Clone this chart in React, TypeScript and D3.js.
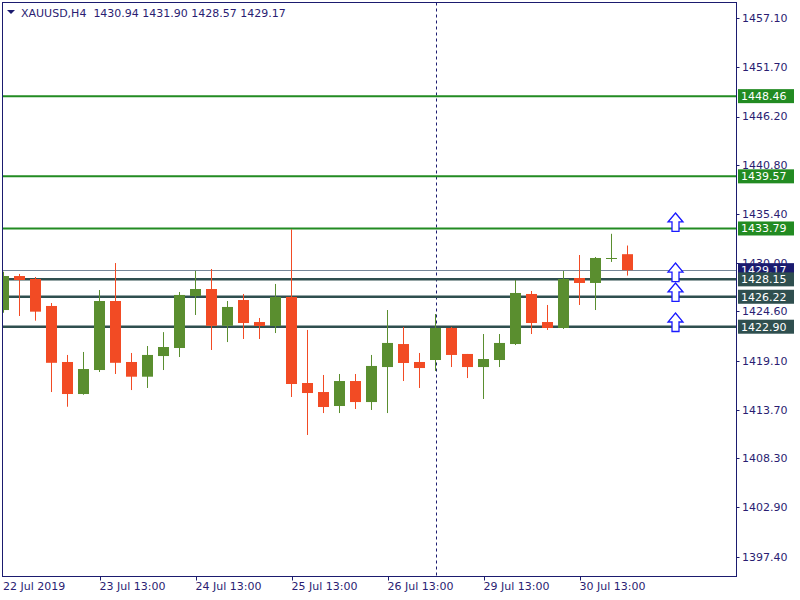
import React from "react";
import * as d3 from "d3";

const symbolTitle = "XAUUSD,H4";
const headerValues = ["1430.94", "1431.90", "1428.57", "1429.17"];

// OHLC per H4 bar (index 0..39)
const opens = [1424.75, 1428.52, 1428.19, 1425.2, 1418.99, 1415.44, 1418.1, 1425.75, 1418.99, 1417.36,
  1419.65, 1420.54, 1426.3, 1427.08, 1423.0, 1425.86, 1423.42, 1422.98, 1426.2, 1416.66,
  1415.66, 1414.11, 1416.88, 1414.55, 1418.43, 1420.98, 1418.99, 1419.21, 1422.76, 1419.88,
  1418.43, 1419.21, 1420.98, 1426.53, 1423.42, 1422.76, 1428.3, 1427.75, 1430.4, 1430.94];
const highs = [1429.0, 1428.75, 1428.41, 1425.53, 1419.77, 1420.1, 1426.97, 1429.96, 1419.99, 1420.76,
  1422.3, 1426.75, 1429.1, 1429.3, 1425.75, 1426.53, 1423.87, 1427.64, 1433.7, 1422.54,
  1417.55, 1417.66, 1417.66, 1419.77, 1424.75, 1422.87, 1419.99, 1424.31, 1422.87, 1419.88,
  1422.09, 1422.09, 1428.08, 1426.86, 1425.31, 1429.08, 1430.85, 1430.63, 1433.2, 1431.9];
const lows = [1424.45, 1424.09, 1423.57, 1415.66, 1414.03, 1415.36, 1417.88, 1417.66, 1415.88, 1416.11,
  1418.1, 1419.54, 1424.2, 1420.32, 1421.2, 1421.54, 1421.54, 1422.2, 1415.11, 1410.9,
  1413.33, 1413.33, 1413.78, 1413.67, 1413.33, 1416.88, 1416.11, 1417.99, 1418.43, 1417.21,
  1414.89, 1418.43, 1420.87, 1422.09, 1422.54, 1422.65, 1425.31, 1424.75, 1430.08, 1428.57];
const closes = [1428.52, 1428.08, 1424.57, 1418.9, 1415.44, 1418.21, 1425.75, 1418.9, 1417.36, 1419.77,
  1420.65, 1426.42, 1427.08, 1423.0, 1425.09, 1423.31, 1422.98, 1426.2, 1416.55, 1415.55,
  1414.0, 1416.88, 1414.55, 1418.55, 1421.1, 1418.88, 1418.32, 1422.76, 1419.77, 1418.43,
  1419.32, 1421.1, 1426.64, 1423.31, 1422.76, 1428.19, 1427.75, 1430.52, 1430.52, 1429.17];

const priceTicks = [1457.1, 1451.7, 1446.2, 1440.8, 1435.4, 1430.0, 1424.6, 1419.1, 1413.7, 1408.3, 1402.9, 1397.4];

const dateLabels = ["22 Jul 2019", "23 Jul 13:00", "24 Jul 13:00", "25 Jul 13:00", "26 Jul 13:00", "29 Jul 13:00", "30 Jul 13:00"];
const dateLabelBars = [0, 6, 12, 18, 24, 30, 36];

const resistanceLevels = [1448.46, 1439.57, 1433.79];
const supportLevels = [1428.15, 1426.22, 1422.9];
const bidPrice = 1429.17;
const separatorBar = 27;

const arrowBar = 42;
const arrowTips = [1435.51, 1429.96, 1427.75, 1424.42];

const W = 800, H = 600;
const plotLeft = 2.5, plotRight = 736.5, plotTop = 2.5, plotBottom = 576.5;
const frameColor = "#1b1b6f";
const textColor = "#2a1d72";
const upColor = "#5a8e2f";
const downColor = "#f24b24";
const resColor = "#228b22";
const supColor = "#2f4f4f";
const bidColor = "#778899";
const font = "DejaVu Sans";

export default function App() {
  const y = d3.scaleLinear().domain([1419.1, 1457.1]).range([361, 18.2]);
  const x = d3.scaleLinear().domain([0, 1]).range([3.5, 19.5]);
  const bodyW = 11;

  const fmt = d3.format(".2f");

  const arrowPath = (cx: number, ty: number) => {
    const pts = [
      [cx, ty], [cx + 7.5, ty + 9], [cx + 3.5, ty + 9], [cx + 3.5, ty + 18.5],
      [cx - 3.5, ty + 18.5], [cx - 3.5, ty + 9], [cx - 7.5, ty + 9],
    ];
    return "M" + pts.map((p) => p.join(",")).join("L") + "Z";
  };

  return (
    <svg width={W} height={H} style={{ position: "absolute", left: 0, top: 0, background: "#fff" }}
      fontFamily={font}>
      <defs>
        <clipPath id="plot">
          <rect x={plotLeft} y={plotTop} width={plotRight - plotLeft} height={plotBottom - plotTop} />
        </clipPath>
      </defs>
      <rect x={0} y={0} width={W} height={H} fill="#fff" />
      <g clipPath="url(#plot)">
        {/* separator */}
        <line x1={Math.round(x(separatorBar)) + 0.5} x2={Math.round(x(separatorBar)) + 0.5} y1={plotTop} y2={plotBottom}
          stroke={frameColor} strokeDasharray="3,3" strokeWidth={1} />
        {/* resistance */}
        {resistanceLevels.map((p, i) => (
          <line key={"r" + i} x1={plotLeft} x2={plotRight} y1={y(p)} y2={y(p)} stroke={resColor} strokeWidth={2} />
        ))}
        {/* bid */}
        <line x1={plotLeft} x2={plotRight} y1={Math.round(y(bidPrice)) + 0.5} y2={Math.round(y(bidPrice)) + 0.5} stroke={bidColor} strokeWidth={1} />
        {supportLevels.map((p, i) => (
          <line key={"s" + i} x1={plotLeft} x2={plotRight} y1={y(p)} y2={y(p)} stroke={supColor} strokeWidth={2.5} />
        ))}
        {/* candles */}
        {opens.map((o, i) => {
          const c = closes[i];
          const up = c >= o;
          const col = up ? upColor : downColor;
          const cx = x(i);
          const top = y(Math.max(o, c));
          const bot = y(Math.min(o, c));
          const h = Math.max(1, bot - top);
          return (
            <g key={"c" + i}>
              <line x1={cx} x2={cx} y1={y(highs[i])} y2={y(lows[i])} stroke={col} strokeWidth={1} />
              {h <= 1.5 ? (
                <line x1={cx - bodyW / 2} x2={cx + bodyW / 2} y1={Math.round(top) + 0.5} y2={Math.round(top) + 0.5} stroke={col} strokeWidth={1} />
              ) : (
                <rect x={cx - bodyW / 2} y={top} width={bodyW} height={h} fill={col} />
              )}
            </g>
          );
        })}
        {/* arrows */}
        {arrowTips.map((p, i) => (
          <path key={"a" + i} d={arrowPath(x(arrowBar), y(p))} fill="#fff" stroke="#1a1aff" strokeWidth={1.3} />
        ))}
      </g>
      {/* frame */}
      <rect x={plotLeft} y={plotTop} width={plotRight - plotLeft} height={plotBottom - plotTop} fill="none" stroke={frameColor} strokeWidth={1} />
      {/* header */}
      <path d="M7,10 L15,10 L11,14 Z" fill={frameColor} />
      <text x={21} y={17} fontSize={11} fill={textColor} xmlSpace="preserve">
        {symbolTitle + "  " + headerValues.join(" ")}
      </text>
      {/* price axis */}
      {priceTicks.map((p, i) => (
        <g key={"t" + i}>
          <line x1={plotRight} x2={plotRight + 3} y1={Math.round(y(p)) + 0.5} y2={Math.round(y(p)) + 0.5} stroke={frameColor} />
          <text x={742} y={y(p)} dy="0.36em" fontSize={11} fill={textColor}>{fmt(p)}</text>
        </g>
      ))}
      {/* level labels */}
      {[...resistanceLevels.map((p) => [p, resColor]), [bidPrice, "#1b1b6f"], ...supportLevels.map((p) => [p, supColor])].map(([p, col], i) => (
        <g key={"l" + i}>
          <rect x={738} y={y(p as number) - 7} width={56} height={14} fill={col as string} />
          <text x={741} y={y(p as number)} dy="0.36em" fontSize={11} fill="#fff">{fmt(p as number)}</text>
        </g>
      ))}
      {/* time axis */}
      {dateLabels.map((d, i) => {
        const tx = Math.round(x(dateLabelBars[i])) + 0.5;
        return (
          <g key={"d" + i}>
            {i > 0 && <line x1={tx} x2={tx} y1={plotBottom} y2={plotBottom + 4} stroke={frameColor} />}
            <text x={i === 0 ? 3 : tx - 1} y={590} fontSize={11} fill={textColor}>{d}</text>
          </g>
        );
      })}
    </svg>
  );
}
